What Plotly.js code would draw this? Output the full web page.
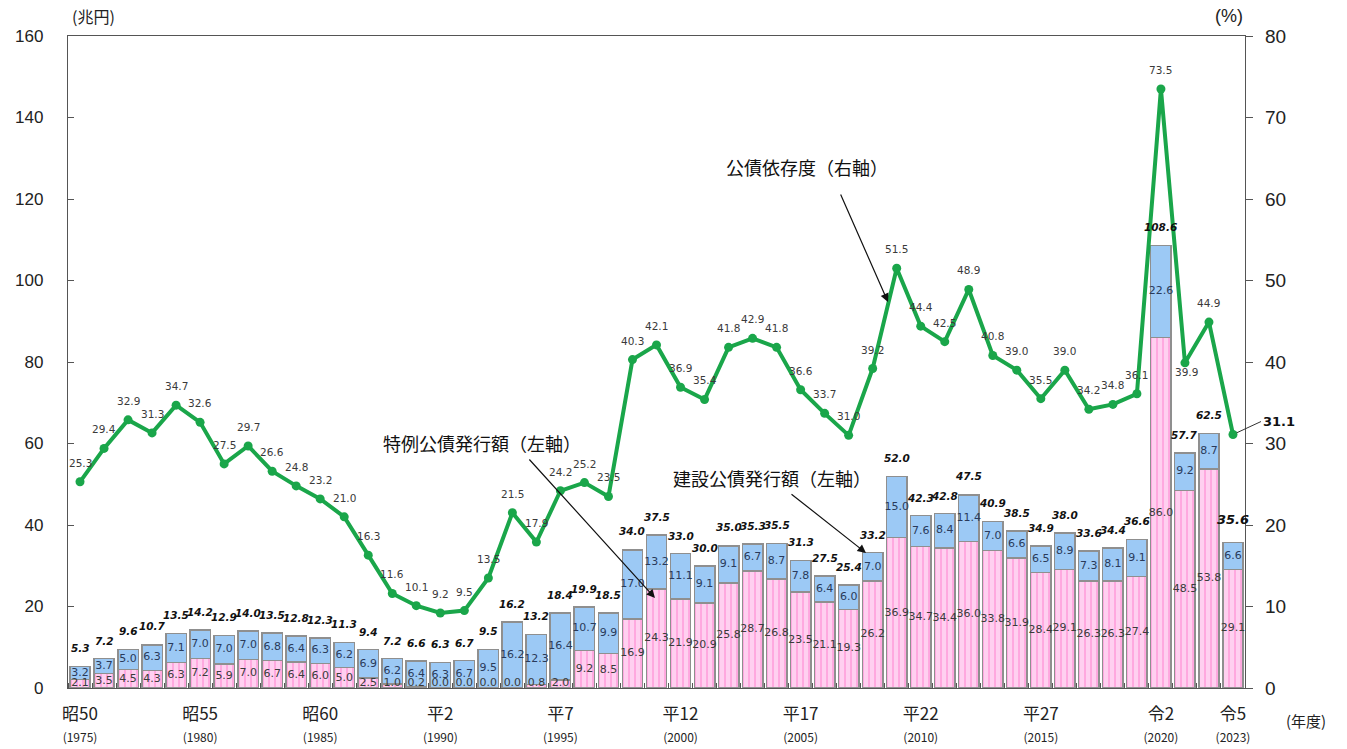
<!DOCTYPE html>
<html>
<head>
<meta charset="utf-8">
<script src="https://cdn.plot.ly/plotly-3.0.1.min.js"></script>
<style>
  html, body { margin: 0; padding: 0; background: #ffffff; }
  #chart { width: 1347px; height: 749px; }
</style>
</head>
<body>
<div id="chart"></div>
<script>
// ---- Data (fiscal years 1975–2023) ----
const years = [1975,1976,1977,1978,1979,1980,1981,1982,1983,1984,1985,1986,1987,1988,1989,
  1990,1991,1992,1993,1994,1995,1996,1997,1998,1999,2000,2001,2002,2003,2004,2005,2006,2007,
  2008,2009,2010,2011,2012,2013,2014,2015,2016,2017,2018,2019,2020,2021,2022,2023];

// 建設公債発行額 (兆円)
const constructionBonds = [3.2,3.7,5.0,6.3,7.1,7.0,7.0,7.0,6.8,6.4,6.3,6.2,6.9,6.2,6.4,
  6.3,6.7,9.5,16.2,12.3,16.4,10.7,9.9,17.0,13.2,11.1,9.1,9.1,6.7,8.7,7.8,6.4,6.0,
  7.0,15.0,7.6,8.4,11.4,7.0,6.6,6.5,8.9,7.3,8.1,9.1,22.6,9.2,8.7,6.6];

// 特例公債発行額 (兆円)
const deficitBonds = [2.1,3.5,4.5,4.3,6.3,7.2,5.9,7.0,6.7,6.4,6.0,5.0,2.5,1.0,0.2,
  0.0,0.0,0.0,0.0,0.8,2.0,9.2,8.5,16.9,24.3,21.9,20.9,25.8,28.7,26.8,23.5,21.1,19.3,
  26.2,36.9,34.7,34.4,36.0,33.8,31.9,28.4,29.1,26.3,26.3,27.4,86.0,48.5,53.8,29.1];

// 公債発行額 合計 (兆円)
const totalBonds = [5.3,7.2,9.6,10.7,13.5,14.2,12.9,14.0,13.5,12.8,12.3,11.3,9.4,7.2,6.6,
  6.3,6.7,9.5,16.2,13.2,18.4,19.9,18.5,34.0,37.5,33.0,30.0,35.0,35.3,35.5,31.3,27.5,25.4,
  33.2,52.0,42.3,42.8,47.5,40.9,38.5,34.9,38.0,33.6,34.4,36.6,108.6,57.7,62.5,35.6];

// 公債依存度 (%)
const dependencyRatio = [25.3,29.4,32.9,31.3,34.7,32.6,27.5,29.7,26.6,24.8,23.2,21.0,16.3,11.6,10.1,
  9.2,9.5,13.5,21.5,17.9,24.2,25.2,23.5,40.3,42.1,36.9,35.4,41.8,42.9,41.8,36.6,33.7,31.0,
  39.2,51.5,44.4,42.5,48.9,40.8,39.0,35.5,39.0,34.2,34.8,36.1,73.5,39.9,44.9,31.1];

// x-axis tick labels
const tickYears = [1975,1980,1985,1990,1995,2000,2005,2010,2015,2020,2023];
const eraLabels = ['昭50','昭55','昭60','平2','平7','平12','平17','平22','平27','令2','令5'];

// ---- Styles ----
const LABEL_FONT = 'DejaVu Sans, Verdana, sans-serif';
const JP_FONT = 'Noto Sans CJK JP, sans-serif';
const BLUE = '#9cc9f5';
const PINK_BG = '#ffd0f0';
const PINK_FG = '#ff4fb8';
const GREEN = '#1aa64a';
const BORDER = '#8f8f8f';

const fmt = v => v.toFixed(1);

const traces = [
  {
    type: 'bar', name: '特例公債発行額', x: years, y: deficitBonds,
    marker: {
      color: PINK_BG,
      line: {color: BORDER, width: 1.5},
      pattern: {shape: '|', fgcolor: PINK_FG, bgcolor: PINK_BG, size: 6, solidity: 0.15, fgopacity: 0.7}
    },
    hoverinfo: 'skip'
  },
  {
    type: 'bar', name: '建設公債発行額', x: years, y: constructionBonds,
    marker: {color: BLUE, line: {color: BORDER, width: 1.5}},
    hoverinfo: 'skip'
  },
  {
    type: 'scatter', mode: 'text', x: years,
    y: deficitBonds.map(v => Math.max(v / 2, 1.2)),
    text: deficitBonds.map(fmt), textposition: 'middle center',
    textfont: {family: LABEL_FONT, size: 11, color: '#3a3a3a'},
    cliponaxis: false, hoverinfo: 'skip', showlegend: false
  },
  {
    type: 'scatter', mode: 'text', x: years,
    y: constructionBonds.map((v, i) => deficitBonds[i] + v / 2),
    text: constructionBonds.map(fmt), textposition: 'middle center',
    textfont: {family: LABEL_FONT, size: 11, color: '#2a3a5a'},
    cliponaxis: false, hoverinfo: 'skip', showlegend: false
  },
  {
    type: 'scatter', mode: 'lines+markers', name: '公債依存度', x: years, y: dependencyRatio,
    yaxis: 'y2',
    line: {color: GREEN, width: 4},
    marker: {color: GREEN, size: 9},
    cliponaxis: false, hoverinfo: 'skip'
  }
];

const annotations = [];

// total labels
totalBonds.forEach((v, i) => {
  const last = i === totalBonds.length - 1;
  annotations.push({
    x: years[i], y: v, xref: 'x', yref: 'y',
    text: '<b><i>' + fmt(v) + '</i></b>',
    showarrow: false, yshift: last ? 23 : 18,
    xanchor: 'center', yanchor: 'middle',
    font: {family: LABEL_FONT, size: last ? 13 : 10.5, color: '#111'}
  });
});

// dependency ratio labels
dependencyRatio.forEach((v, i) => {
  const yr = years[i];
  if (yr === 2023) {
    annotations.push({
      x: yr, y: v, xref: 'x', yref: 'y2',
      text: '<b>' + fmt(v) + '</b>',
      showarrow: true, arrowhead: 0, arrowwidth: 1, arrowcolor: '#333',
      ax: 28, ay: -13, standoff: 4, xanchor: 'left', yanchor: 'middle',
      font: {family: LABEL_FONT, size: 13, color: '#111'}
    });
    return;
  }
  let xs = 0, ys = 19;
  if (yr === 2021) { xs = 2; ys = -9; }
  annotations.push({
    x: yr, y: v, xref: 'x', yref: 'y2',
    text: fmt(v), showarrow: false, xshift: xs, yshift: ys,
    xanchor: 'center', yanchor: 'middle',
    font: {family: LABEL_FONT, size: 10.5, color: '#3a3a3a'}
  });
});

const W = 1347, H = 749, L = 68, R = 102, T = 36, B = 61;
const PW = W - L - R, PH = H - T - B;
const px = x => (x - L) / PW;
const py = y => (H - B - y) / PH;

function paperText(x, y, text, font) {
  return {x: px(x), y: py(y), xref: 'paper', yref: 'paper', text: text, showarrow: false,
          xanchor: 'center', yanchor: 'middle', font: font};
}
function arrow(hx, hy, tx, ty) {
  return {x: px(hx), y: py(hy), xref: 'paper', yref: 'paper', text: '', showarrow: true,
          axref: 'pixel', ayref: 'pixel', ax: tx - hx, ay: ty - hy,
          arrowhead: 2, arrowsize: 1.4, arrowwidth: 1.2, arrowcolor: '#111', standoff: 0};
}

annotations.push(
  paperText(93, 16, '(兆円)', {family: JP_FONT, size: 16, color: '#222'}),
  paperText(1229, 16, '(%)', {family: 'Liberation Sans, Arial, sans-serif', size: 18, color: '#222'}),
  paperText(1306, 720, '(年度)', {family: JP_FONT, size: 15, color: '#222'}),
  paperText(807, 167, '公債依存度（右軸）', {family: JP_FONT, size: 18, color: '#111'}),
  paperText(482, 443, '特例公債発行額（左軸）', {family: JP_FONT, size: 18, color: '#111'}),
  paperText(772, 478, '建設公債発行額（左軸）', {family: JP_FONT, size: 18, color: '#111'}),
  arrow(888, 302, 840, 193),
  arrow(655, 598, 528, 458),
  arrow(866, 553, 790, 493)
);

const layout = {
  width: W, height: H,
  margin: {l: L, r: R, t: T, b: B, pad: 0},
  paper_bgcolor: '#ffffff', plot_bgcolor: '#ffffff',
  barmode: 'stack', bargap: 0.15,
  showlegend: false,
  xaxis: {
    range: [1974.5, 2023.5],
    tickmode: 'array', tickvals: tickYears,
    ticktext: eraLabels.map((e, i) => e + '<br><span style="font-size:12px">(' + tickYears[i] + ')</span>'),
    ticks: '', ticklabelstandoff: 10,
    tickfont: {family: JP_FONT, size: 17, color: '#222'},
    minor: {tickmode: 'linear', tick0: 1974.5, dtick: 1, ticks: 'inside', ticklen: 5, tickcolor: '#555', tickwidth: 1},
    showline: true, linecolor: '#555', linewidth: 1.2, mirror: true,
    showgrid: false, zeroline: false, fixedrange: true
  },
  yaxis: {
    range: [0, 160], dtick: 20, tickmode: 'linear',
    ticks: 'inside', ticklen: 6, tickcolor: '#555',
    ticklabelstandoff: 20,
    tickfont: {family: 'Liberation Sans, Arial, sans-serif', size: 17, color: '#222'},
    showline: true, linecolor: '#555', linewidth: 1.2,
    showgrid: false, zeroline: false, fixedrange: true
  },
  yaxis2: {
    range: [0, 80], dtick: 10, tickmode: 'linear',
    overlaying: 'y', side: 'right',
    ticks: 'outside', ticklen: 7, tickcolor: '#555',
    ticklabelstandoff: 8,
    tickfont: {family: 'Liberation Sans, Arial, sans-serif', size: 19, color: '#222'},
    showline: true, linecolor: '#555', linewidth: 1.2,
    showgrid: false, zeroline: false, fixedrange: true
  },
  annotations: annotations
};

Plotly.newPlot('chart', traces, layout, {displayModeBar: false, staticPlot: true});
</script>
</body>
</html>
